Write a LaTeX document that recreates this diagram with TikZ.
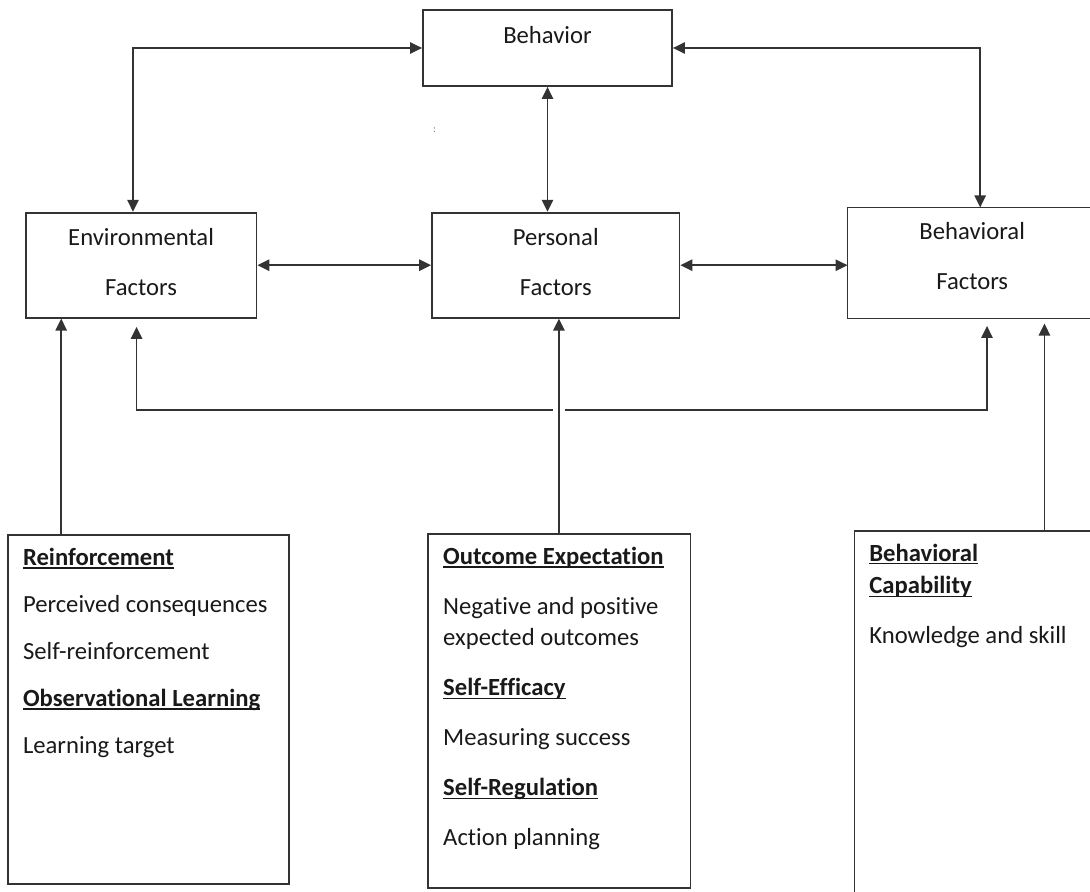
\documentclass[tikz,border=0pt]{standalone}
\usepackage{fontspec}
\setmainfont{Carlito}[Ligatures=NoCommon]
\usetikzlibrary{
  arrows.meta,
  chains,
  positioning,
  scopes
}
\newsavebox{\hdrbox}
\newcommand{\hdr}[1]{\sbox{\hdrbox}{\textbf{#1}}\rlap{\rule[-2.4pt]{\wd\hdrbox}{0.9pt}}\usebox{\hdrbox}}

\begin{document}
\begin{tikzpicture}[
      x=0.75pt, y=-0.75pt,
      font=\fontsize{18.5}{23.5}\selectfont,
      text=black!90,
      factor/.style={
         rectangle,
         draw=black!80,
         align=center,
         inner sep=0pt
      },
      topic/.style={
         rectangle,
         draw=black!80,
         inner sep=0pt
      },
      topictext/.style={
         anchor=north west,
         align=left,
         inner xsep=11.25pt,
         inner ysep=9.8pt
      },
      point/.style={coordinate},
      >={Triangle[length=9pt,width=8.5pt]},
      line width=1.35pt,
      every join/.style={draw=black!80},
      tip/.style={->},
      both/.style={<->},
      skip loop/.style={
         to path={-- ++(0,#1) -| (\tikztotarget)}
      },
      hv path/.style={to path={-| (\tikztotarget)}},
      vh path/.style={to path={|- (\tikztotarget)}}
    ]
    \useasboundingbox (0,0) rectangle (1090,892);
    % factor boxes
    \node (beh) [factor, minimum width=186.75pt, minimum height=57pt,
                 text height=13pt, text depth=20pt] at (547.5,48) {Behavior};
    \node (env) [factor, minimum width=173.1pt, minimum height=78.75pt] at (141.1,265.2) {Environmental\\[14pt]Factors\\[-18.3pt]\mbox{}};
    \node (pers) [factor, minimum width=185.6pt, minimum height=78.75pt] at (555.75,265.2) {Personal\\[14pt]Factors\\[-18.3pt]\mbox{}};
    \node (behf) [factor, draw=none, minimum width=185.7pt, minimum height=82pt] at (972.2,263) {Behavioral\\[14pt]Factors\\[-13pt]\mbox{}};
    % right side of this box runs off the page
    \draw[black!80] ([xshift=20pt]behf.north east) -| (behf.south west) -- ([xshift=20pt]behf.south east);
    \node (colon) [text=black!50, font=\fontsize{8}{8}\selectfont] at (434.5,130) {:};
    % construct boxes
    \node (reinf) [topic, minimum width=210.9pt, minimum height=261.75pt] at (148.6,709.5) {};
    \node (outc) [topic, minimum width=196.7pt, minimum height=265.5pt] at (559.35,711) {};
    \node (capab) [topic, minimum width=184.2pt, minimum height=277pt] at (977.2,715.35) {};
    \node (reinfT) [topictext] at (reinf.north west) {\hdr{Reinforcement}\\[11.75pt]Perceived consequences\\[11.75pt]Self-reinforcement\\[11.75pt]\hdr{Observational Learning}\\[11.75pt]Learning target};
    \node (outcT) [topictext] at (outc.north west) {\hdr{Outcome Expectation}\\[14pt]Negative and positive\\expected outcomes\\[14pt]\hdr{Self-Efficacy}\\[14pt]Measuring success\\[14pt]\hdr{Self-Regulation}\\[14pt]Action planning};
    \node (capabT) [topictext] at (capab.north west) {\hdr{Behavioral}\\[1pt]\hdr{Capability}\\[14pt]Knowledge and skill};
    % connector points
    \node (pEnvTop) [point] at ([xshift=-6.1pt]env.north) {};
    \node (pBehfTop) [point] at ([xshift=6pt]behf.north) {};
    \node (pPersTop) [point] at (beh.south |- pers.north) {};
    \node (pBehfW) [point] at (pers.east -| behf.west) {};
    \node (pLoopA) [point] at ([xshift=-3.4pt,yshift=-6.2pt]env.south) {};
    \node (pLoopD) [point] at ([xshift=11.1pt,yshift=-5.5pt]behf.south) {};
    \node (pLoopMid) [point] at ([yshift=-62.25pt]pLoopA) {};
    \node (pEnvBot) [point] at ([xshift=-59.9pt]env.south) {};
    \node (pReinfTop) [point] at (pEnvBot |- reinf.north) {};
    \node (pPersBot) [point] at ([xshift=2.4pt]pers.south) {};
    \node (pOutcTop) [point] at (pPersBot |- outc.north) {};
    \node (pBehfBot) [point] at ([xshift=54.2pt,yshift=-3.75pt]behf.south) {};
    \node (pCapTop) [point] at (pBehfBot |- capab.north) {};
    \node (pCross) [point] at (pPersBot |- pLoopMid) {};
  { [start chain]
       \chainin (beh);
       \chainin (pEnvTop)    [join=by {hv path,both}];
  }
  { [start chain]
       \chainin (beh);
       \chainin (pBehfTop)    [join=by {hv path,both}];
  }
  { [start chain]
       \chainin (beh);
       \chainin (pPersTop)    [join=by both];
  }
  { [start chain]
       \chainin (env);
       \chainin (pers)    [join=by both];
  }
  { [start chain]
       \chainin (pers);
       \chainin (pBehfW)    [join=by both];
  }
  { [start chain]
       \chainin (pLoopA);
       \chainin (pLoopD)    [join=by {skip loop=83,both}];
  }
    \fill[white] ([xshift=-4.5pt,yshift=-2.5pt]pCross) rectangle ([xshift=4.5pt,yshift=2.5pt]pCross);
  { [start chain]
       \chainin (pReinfTop);
       \chainin (pEnvBot)    [join=by tip];
  }
  { [start chain]
       \chainin (pOutcTop);
       \chainin (pPersBot)    [join=by tip];
  }
  { [start chain]
       \chainin (pCapTop);
       \chainin (pBehfBot)    [join=by tip];
  }
\end{tikzpicture}
\end{document}
